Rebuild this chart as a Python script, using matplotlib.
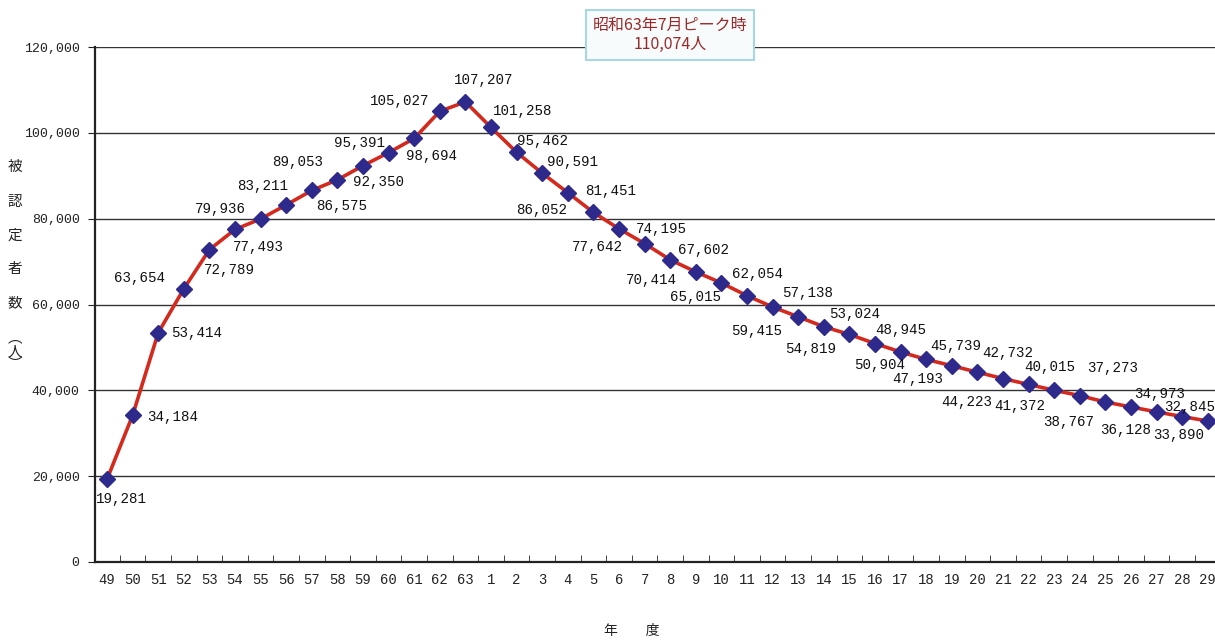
import matplotlib
matplotlib.use("Agg")
import matplotlib.pyplot as plt
from matplotlib.ticker import FuncFormatter, MultipleLocator, FixedLocator

# ---- data ----
years = ["49", "50", "51", "52", "53", "54", "55", "56", "57", "58", "59", "60", "61", "62", "63",
         "1", "2", "3", "4", "5", "6", "7", "8", "9", "10", "11", "12", "13", "14", "15", "16",
         "17", "18", "19", "20", "21", "22", "23", "24", "25", "26", "27", "28", "29"]
counts = [19281, 34184, 53414, 63654, 72789, 77493, 79936, 83211, 86575, 89053, 92350, 95391,
          98694, 105027, 107207, 101258, 95462, 90591, 86052, 81451, 77642, 74195, 70414, 67602,
          65015, 62054, 59415, 57138, 54819, 53024, 50904, 48945, 47193, 45739, 44223, 42732,
          41372, 40015, 38767, 37273, 36128, 34973, 33890, 32845]
peak_note = "昭和63年7月ピーク時\n110,074人"
ylabel_chars = ["被", "認", "定", "者", "数"]
xlabel_text = "年　　度"

# label offsets in pixels (dx right, dy down) -- layout only
label_offsets = [(14, 20), (40, 2), (38, 0), (-44, -11), (20, 20), (23, 18), (-40, -10), (-24, -19),
                 (30, 16), (-40, -18), (15, 16), (-29, -10), (17, 18), (-40, -10), (18, -22),
                 (32, -16), (26, -11), (30, -11), (-26, 17), (17, -21), (-22, 18), (17, -15),
                 (-19, 20), (8, -22), (-26, 14), (10, -22), (-16, 24), (9, -24), (-13, 22),
                 (5, -20), (5, 21), (0, -22), (-8, 20), (4, -20), (-11, 30), (5, -26), (-9, 22),
                 (-4, -23), (-11, 26), (7, -34), (-5, 23), (3, -18), (-4, 18), (-18, -14)]

W, H = 1215, 644
fig = plt.figure(figsize=(W / 100, H / 100), dpi=100)
fig.patch.set_facecolor("white")
ax = fig.add_axes([95 / W, (H - 562) / H, (1215 - 95) / W, (562 - 47) / H])

x = list(range(len(years)))
ax.plot(x, counts, color="#d42a1e", lw=2.6, zorder=3)
ax.plot(x, counts, ls="none", marker="D", ms=8.5, color="#2e2a8c", mec="#2e2a8c", zorder=4)

ax.set_xlim(-0.47, 43.28)
ax.set_ylim(0, 120000)
ax.yaxis.set_major_locator(MultipleLocator(20000))
ax.yaxis.set_major_formatter(FuncFormatter(lambda v, p: f"{int(v):,}"))
ax.grid(axis="y", color="#333333", lw=1.0)
ax.set_axisbelow(True)

for s in ["top", "right"]:
    ax.spines[s].set_visible(False)
for s in ["left", "bottom"]:
    ax.spines[s].set_color("#222222")
    ax.spines[s].set_linewidth(1.6)

# x ticks: labels at categories, tick marks at boundaries
ax.set_xticks(x)
ax.set_xticklabels(years, fontfamily="Liberation Mono", fontsize=10, color="#222222")
ax.tick_params(axis="x", which="major", length=0, pad=8)
ax.xaxis.set_minor_locator(FixedLocator([i + 0.5 for i in range(len(years) - 1)]))
ax.tick_params(axis="x", which="minor", direction="in", length=5, color="#222222")
ax.tick_params(axis="y", direction="out", length=5, color="#222222", pad=6,
               labelsize=9.5, labelcolor="#222222")
for t in ax.get_yticklabels():
    t.set_fontfamily("Liberation Mono")

# data labels
for xi, v, (dx, dy) in zip(x, counts, label_offsets):
    ax.annotate(f"{v:,}", (xi, v), xytext=(dx, -dy), textcoords="offset pixels",
                ha="center", va="center", fontsize=10.2, family="Liberation Mono",
                color="#111111", zorder=5, annotation_clip=False)

# y label: stacked vertical characters
ys = [167, 202, 236, 269, 303]
for ch, yy in zip(ylabel_chars, ys):
    fig.text(15 / W, 1 - yy / H, ch, ha="center", va="center",
             fontsize=10.5, family="Noto Sans CJK JP", color="#222222")
for ch, yy in zip(["︵", "人", "︶"], [338, 352, 364]):
    fig.text(15 / W, 1 - yy / H, ch, ha="center", va="center",
             fontsize=10.5, family="Noto Sans CJK JP", color="#222222")

fig.text(632 / W, 1 - 631 / H, xlabel_text, ha="center", va="center",
         fontsize=10, family="Noto Sans CJK JP", color="#222222")

# peak note box
fig.text(670 / W, 1 - 35 / H, peak_note, ha="center", va="center", fontsize=11.5,
         family=["Noto Sans CJK JP", "DejaVu Sans"], color="#9a2a2a", linespacing=1.2,
         bbox=dict(boxstyle="square,pad=0.4", fc="#f7fbfc", ec="#a9d6df", lw=1.5))

fig.savefig("out.png", dpi=100)
